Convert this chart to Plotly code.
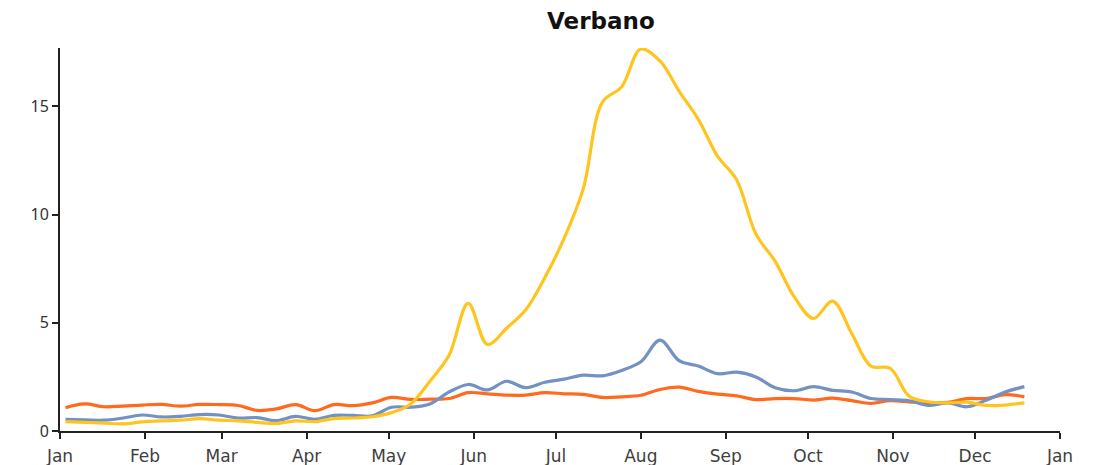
import plotly.graph_objects as go
import pandas as pd

dates = pd.date_range("2023-01-03", periods=51, freq="7D")

yellow = [0.43, 0.40, 0.36, 0.33, 0.42, 0.47, 0.50, 0.57, 0.50, 0.47,
          0.40, 0.35, 0.47, 0.43, 0.57, 0.60, 0.66, 0.85, 1.25, 2.3,
          3.5, 5.9, 4.0, 4.75, 5.6, 7.1, 8.9, 11.2, 15.2, 15.9,
          17.65, 17.1, 15.7, 14.4, 12.7, 11.6, 9.1, 7.85, 6.2, 5.2,
          6.0, 4.5, 3.0, 2.9, 1.6, 1.35, 1.3, 1.33, 1.18, 1.2, 1.3]

blue = [0.54, 0.52, 0.50, 0.60, 0.74, 0.65, 0.68, 0.76, 0.74, 0.60,
        0.62, 0.48, 0.68, 0.54, 0.72, 0.72, 0.70, 1.10, 1.10, 1.25,
        1.80, 2.15, 1.90, 2.30, 2.00, 2.25, 2.40, 2.58, 2.55, 2.80,
        3.20, 4.20, 3.25, 3.00, 2.65, 2.72, 2.50, 2.00, 1.86, 2.05,
        1.88, 1.80, 1.50, 1.45, 1.40, 1.18, 1.30, 1.12, 1.42, 1.80, 2.05]

orange = [1.08, 1.25, 1.12, 1.15, 1.20, 1.23, 1.15, 1.23, 1.22, 1.18,
          0.95, 1.02, 1.22, 0.94, 1.22, 1.17, 1.30, 1.55, 1.46, 1.47,
          1.50, 1.77, 1.72, 1.66, 1.66, 1.77, 1.72, 1.69, 1.55, 1.58,
          1.65, 1.92, 2.03, 1.83, 1.70, 1.62, 1.45, 1.50, 1.50, 1.43,
          1.52, 1.40, 1.28, 1.40, 1.35, 1.30, 1.32, 1.50, 1.50, 1.68, 1.58]

fig = go.Figure()
for vals, col in [(orange, "#FF6A1E"), (blue, "#7391C3"), (yellow, "#FFC51F")]:
    fig.add_trace(go.Scatter(x=dates, y=vals, mode="lines",
                             line=dict(color=col, width=3.2, shape="spline", smoothing=1.0),
                             showlegend=False, hoverinfo="skip"))

fig.update_layout(
    width=1102, height=465,
    margin=dict(l=52, r=50, t=40, b=42),
    paper_bgcolor="white", plot_bgcolor="white",
    title=dict(text="<b>Verbano</b>", x=0.538, xanchor="center", y=0.972, yanchor="middle",
               font=dict(family="DejaVu Sans", size=23, color="#111111")),
    xaxis=dict(type="date", range=["2023-01-01", "2024-01-01"], dtick="M1", tickformat="%b",
               tick0="2023-01-01", automargin=False,
               showgrid=False, zeroline=False, showline=True, linecolor="#222222", linewidth=2,
               ticks="outside", ticklen=6, tickwidth=2, tickcolor="#222222",
               ticklabelstandoff=3,
               tickfont=dict(family="DejaVu Sans", size=17, color="#404040")),
    yaxis=dict(range=[0, 17.7], tickvals=[0, 5, 10, 15], ticktext=["0", "5", "10", "15"],
               automargin=False,
               showgrid=False, zeroline=False, showline=True, linecolor="#222222", linewidth=2,
               ticks="outside", ticklen=6, tickwidth=2, tickcolor="#222222",
               tickfont=dict(family="Noto Sans", size=16, color="#333333")),
)

fig.write_html("out.html")
